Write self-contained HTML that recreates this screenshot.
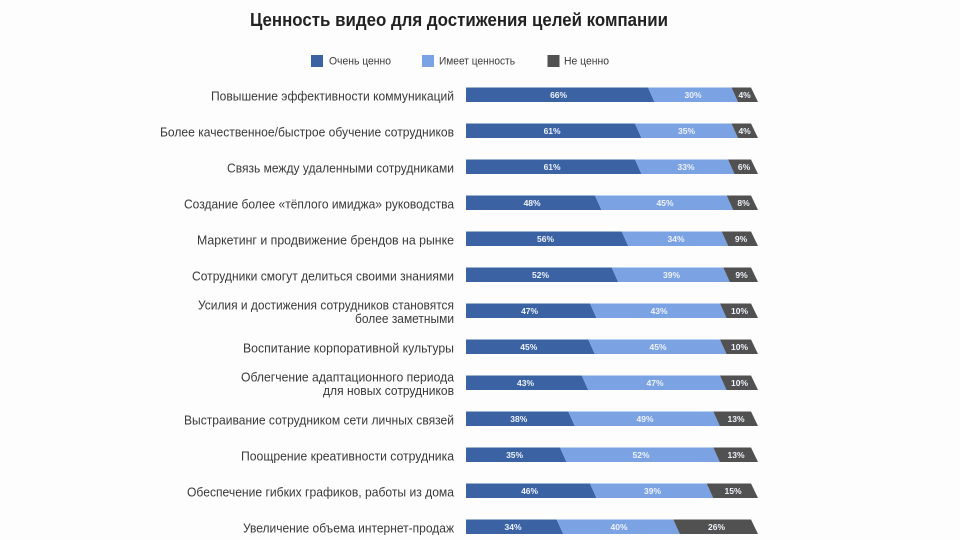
<!DOCTYPE html>
<html>
<head>
<meta charset="utf-8">
<style>
  html,body{margin:0;padding:0;background:#fdfdfd;}
  svg{display:block;}
  .lbl{font-family:"Liberation Sans",sans-serif;font-size:13px;fill:#3a3a3a;}
  .pct{font-family:"Liberation Sans",sans-serif;font-size:8.5px;font-weight:bold;fill:#eef2fa;text-anchor:middle;}
  .leg{font-family:"Liberation Sans",sans-serif;font-size:11px;fill:#3a3a3a;}
</style>
</head>
<body>
<svg width="960" height="540" viewBox="0 0 960 540" xmlns="http://www.w3.org/2000/svg">
  <rect width="960" height="540" fill="#fdfdfd"/>
  <text x="250" y="26" textLength="418" lengthAdjust="spacingAndGlyphs" style="font-family:'Liberation Sans',sans-serif;font-size:18px;font-weight:bold;fill:#222;">Ценность видео для достижения целей компании</text>

  <!-- legend -->
  <rect x="311" y="55" width="12" height="12" fill="#3b63a3"/>
  <text class="leg" x="329" y="64.5" textLength="62" lengthAdjust="spacingAndGlyphs">Очень ценно</text>
  <rect x="422" y="55" width="12" height="12" fill="#7ba3e3"/>
  <text class="leg" x="439" y="64.5" textLength="76" lengthAdjust="spacingAndGlyphs">Имеет ценность</text>
  <rect x="547.5" y="55" width="12" height="12" fill="#515151"/>
  <text class="leg" x="564" y="64.5" textLength="45" lengthAdjust="spacingAndGlyphs">Не ценно</text>

  <!-- labels -->
  <text class="lbl" x="211" y="100.25" textLength="243" lengthAdjust="spacingAndGlyphs">Повышение эффективности коммуникаций</text>
  <text class="lbl" x="160" y="136.25" textLength="294" lengthAdjust="spacingAndGlyphs">Более качественное/быстрое обучение сотрудников</text>
  <text class="lbl" x="227" y="172.25" textLength="227" lengthAdjust="spacingAndGlyphs">Связь между удаленными сотрудниками</text>
  <text class="lbl" x="184" y="208.25" textLength="270" lengthAdjust="spacingAndGlyphs">Создание более «тёплого имиджа» руководства</text>
  <text class="lbl" x="197" y="244.25" textLength="257" lengthAdjust="spacingAndGlyphs">Маркетинг и продвижение брендов на рынке</text>
  <text class="lbl" x="192" y="280.25" textLength="262" lengthAdjust="spacingAndGlyphs">Сотрудники смогут делиться своими знаниями</text>
  <text class="lbl" x="198" y="309.5" textLength="256" lengthAdjust="spacingAndGlyphs">Усилия и достижения сотрудников становятся</text>
  <text class="lbl" x="355" y="323" textLength="99" lengthAdjust="spacingAndGlyphs">более заметными</text>
  <text class="lbl" x="243" y="352.25" textLength="211" lengthAdjust="spacingAndGlyphs">Воспитание корпоративной культуры</text>
  <text class="lbl" x="241" y="381.5" textLength="213" lengthAdjust="spacingAndGlyphs">Облегчение адаптационного периода</text>
  <text class="lbl" x="323" y="395" textLength="131" lengthAdjust="spacingAndGlyphs">для новых сотрудников</text>
  <text class="lbl" x="184" y="424.25" textLength="270" lengthAdjust="spacingAndGlyphs">Выстраивание сотрудником сети личных связей</text>
  <text class="lbl" x="241" y="460.25" textLength="213" lengthAdjust="spacingAndGlyphs">Поощрение креативности сотрудника</text>
  <text class="lbl" x="187" y="496.25" textLength="267" lengthAdjust="spacingAndGlyphs">Обеспечение гибких графиков, работы из дома</text>
  <text class="lbl" x="243" y="532.25" textLength="211" lengthAdjust="spacingAndGlyphs">Увеличение объема интернет-продаж</text>

  <!-- bars -->
  <g>
    <!-- row 0 -->
    <polygon points="466,87.5 648,87.5 654.5,102 466,102" fill="#3b63a3"/>
    <polygon points="648,87.5 731.5,87.5 738,102 654.5,102" fill="#7ba3e3"/>
    <polygon points="731.5,87.5 751,87.5 758,102 738,102" fill="#515151"/>
    <text class="pct" x="558.6" y="98">66%</text><text class="pct" x="693" y="98">30%</text><text class="pct" x="744.6" y="98">4%</text>
    <!-- row 1 -->
    <polygon points="466,123.5 635,123.5 641.5,138 466,138" fill="#3b63a3"/>
    <polygon points="635,123.5 731.5,123.5 738,138 641.5,138" fill="#7ba3e3"/>
    <polygon points="731.5,123.5 751,123.5 758,138 738,138" fill="#515151"/>
    <text class="pct" x="552.1" y="134">61%</text><text class="pct" x="686.5" y="134">35%</text><text class="pct" x="744.6" y="134">4%</text>
    <!-- row 2 -->
    <polygon points="466,159.5 635,159.5 641.5,174 466,174" fill="#3b63a3"/>
    <polygon points="635,159.5 728,159.5 734.5,174 641.5,174" fill="#7ba3e3"/>
    <polygon points="728,159.5 751,159.5 758,174 734.5,174" fill="#515151"/>
    <text class="pct" x="552.1" y="170">61%</text><text class="pct" x="686" y="170">33%</text><text class="pct" x="744" y="170">6%</text>
    <!-- row 3 -->
    <polygon points="466,195.5 595,195.5 601.5,210 466,210" fill="#3b63a3"/>
    <polygon points="595,195.5 726.7,195.5 733.2,210 601.5,210" fill="#7ba3e3"/>
    <polygon points="726.7,195.5 751,195.5 758,210 733.2,210" fill="#515151"/>
    <text class="pct" x="532.1" y="206">48%</text><text class="pct" x="665" y="206">45%</text><text class="pct" x="743.5" y="206">8%</text>
    <!-- row 4 -->
    <polygon points="466,231.5 621.7,231.5 628.2,246 466,246" fill="#3b63a3"/>
    <polygon points="621.7,231.5 721.7,231.5 728.2,246 628.2,246" fill="#7ba3e3"/>
    <polygon points="721.7,231.5 751,231.5 758,246 728.2,246" fill="#515151"/>
    <text class="pct" x="545.5" y="242">56%</text><text class="pct" x="676" y="242">34%</text><text class="pct" x="741" y="242">9%</text>
    <!-- row 5 -->
    <polygon points="466,267.5 611.7,267.5 618.2,282 466,282" fill="#3b63a3"/>
    <polygon points="611.7,267.5 723.3,267.5 729.8,282 618.2,282" fill="#7ba3e3"/>
    <polygon points="723.3,267.5 751,267.5 758,282 729.8,282" fill="#515151"/>
    <text class="pct" x="540.5" y="278">52%</text><text class="pct" x="671.5" y="278">39%</text><text class="pct" x="741.5" y="278">9%</text>
    <!-- row 6 -->
    <polygon points="466,303.5 590,303.5 596.5,318 466,318" fill="#3b63a3"/>
    <polygon points="590,303.5 720,303.5 726.5,318 596.5,318" fill="#7ba3e3"/>
    <polygon points="720,303.5 751,303.5 758,318 726.5,318" fill="#515151"/>
    <text class="pct" x="529.6" y="314">47%</text><text class="pct" x="659" y="314">43%</text><text class="pct" x="739.5" y="314">10%</text>
    <!-- row 7 -->
    <polygon points="466,339.5 588.3,339.5 594.8,354 466,354" fill="#3b63a3"/>
    <polygon points="588.3,339.5 720,339.5 726.5,354 594.8,354" fill="#7ba3e3"/>
    <polygon points="720,339.5 751,339.5 758,354 726.5,354" fill="#515151"/>
    <text class="pct" x="528.8" y="350">45%</text><text class="pct" x="658" y="350">45%</text><text class="pct" x="739.5" y="350">10%</text>
    <!-- row 8 -->
    <polygon points="466,375.5 581.7,375.5 588.2,390 466,390" fill="#3b63a3"/>
    <polygon points="581.7,375.5 720,375.5 726.5,390 588.2,390" fill="#7ba3e3"/>
    <polygon points="720,375.5 751,375.5 758,390 726.5,390" fill="#515151"/>
    <text class="pct" x="525.5" y="386">43%</text><text class="pct" x="655" y="386">47%</text><text class="pct" x="739.5" y="386">10%</text>
    <!-- row 9 -->
    <polygon points="466,411.5 568.3,411.5 574.8,426 466,426" fill="#3b63a3"/>
    <polygon points="568.3,411.5 713.3,411.5 719.8,426 574.8,426" fill="#7ba3e3"/>
    <polygon points="713.3,411.5 751,411.5 758,426 719.8,426" fill="#515151"/>
    <text class="pct" x="518.8" y="422">38%</text><text class="pct" x="645" y="422">49%</text><text class="pct" x="736" y="422">13%</text>
    <!-- row 10 -->
    <polygon points="466,447.5 560,447.5 566.5,462 466,462" fill="#3b63a3"/>
    <polygon points="560,447.5 713.3,447.5 719.8,462 566.5,462" fill="#7ba3e3"/>
    <polygon points="713.3,447.5 751,447.5 758,462 719.8,462" fill="#515151"/>
    <text class="pct" x="514.6" y="458">35%</text><text class="pct" x="641" y="458">52%</text><text class="pct" x="736" y="458">13%</text>
    <!-- row 11 -->
    <polygon points="466,483.5 590,483.5 596.5,498 466,498" fill="#3b63a3"/>
    <polygon points="590,483.5 706.7,483.5 713.2,498 596.5,498" fill="#7ba3e3"/>
    <polygon points="706.7,483.5 751,483.5 758,498 713.2,498" fill="#515151"/>
    <text class="pct" x="529.6" y="494">46%</text><text class="pct" x="652.5" y="494">39%</text><text class="pct" x="733" y="494">15%</text>
    <!-- row 12 -->
    <polygon points="466,519.5 556.7,519.5 563.2,534 466,534" fill="#3b63a3"/>
    <polygon points="556.7,519.5 673.3,519.5 679.8,534 563.2,534" fill="#7ba3e3"/>
    <polygon points="673.3,519.5 751,519.5 758,534 679.8,534" fill="#515151"/>
    <text class="pct" x="513" y="530">34%</text><text class="pct" x="619" y="530">40%</text><text class="pct" x="716.5" y="530">26%</text>
  </g>
</svg>
</body>
</html>
